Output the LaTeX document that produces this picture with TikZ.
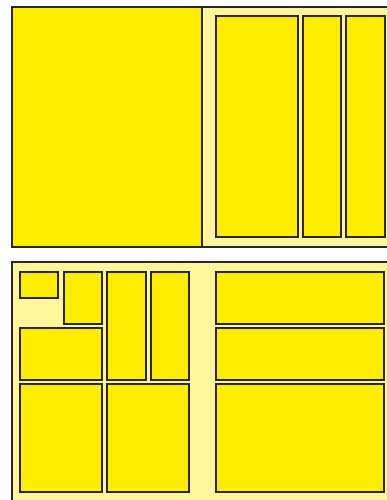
\documentclass[tikz,border=0pt]{standalone}
\definecolor{boxyellow}{RGB}{255,237,0}
\definecolor{paleyellow}{RGB}{255,246,155}
\definecolor{edgegray}{RGB}{40,40,40}
\begin{document}
\begin{tikzpicture}[x=1pt,y=-1pt]
    \useasboundingbox (0,0) rectangle (386,500);
    % top panel
    \filldraw[paleyellow] (12,7) rectangle (392,247);
    \filldraw[boxyellow] (12,7) rectangle (202,247);
    \draw[edgegray,line width=2pt] (12,7) rectangle (392,247);
    \draw[edgegray,line width=2pt] (202,7)--(202,247);
    \foreach \xa/\xb in {216/298,303/341,346/385}
    {
    \filldraw[boxyellow] (\xa,16) rectangle (\xb,237);
    \draw[edgegray,line width=1.9pt] (\xa,16) rectangle (\xb,237);
    }
    % bottom panel
    \filldraw[paleyellow] (12,262) rectangle (392,506);
    \draw[edgegray,line width=2pt] (12,262) rectangle (392,506);
    \foreach \xa/\ya/\xb/\yb in {20/272/58/298, 64/272/102/324, 107/272/146/380, 151/272/189/380,
        20/328/102/380, 20/384/102/492, 107/384/189/492,
        216/272/384/324, 216/328/384/380, 216/384/384/492}
    {
    \filldraw[boxyellow] (\xa,\ya) rectangle (\xb,\yb);
    \draw[edgegray,line width=1.9pt] (\xa,\ya) rectangle (\xb,\yb);
    }
\end{tikzpicture}
\end{document}
